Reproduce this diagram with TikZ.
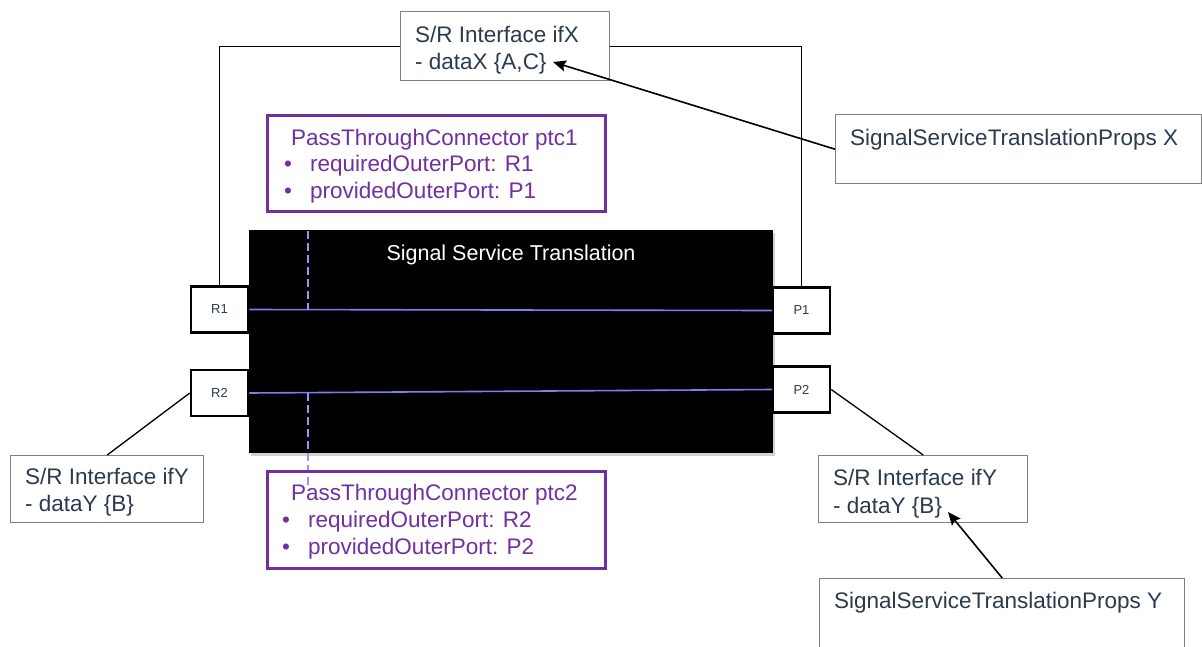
\documentclass[tikz,border=0pt]{standalone}
\usepackage{fontspec}
\setmainfont{Liberation Sans}
\usetikzlibrary{arrows.meta,shadows}
\definecolor{txt}{RGB}{44,58,78}
\definecolor{ptc}{RGB}{112,48,160}
\definecolor{lav}{RGB}{125,125,245}
\definecolor{lavlight}{RGB}{150,150,245}
\definecolor{gborder}{RGB}{128,128,128}
\begin{document}
\begin{tikzpicture}[x=1pt,y=-1pt,
  graybox/.style={draw=gborder, line width=1.4pt, fill=white, inner sep=0pt, anchor=north west},
  portbox/.style={draw=black, line width=2.5pt, fill=white, inner sep=0pt, minimum width=57pt, minimum height=46pt, font=\fontsize{13}{15}\selectfont, text=txt},
  ptcbox/.style={draw=ptc, line width=3pt, inner sep=0pt, anchor=north west},
  lbl/.style={anchor=base west, inner sep=0pt, text=txt, font=\fontsize{22.5}{27}\selectfont},
  plbl/.style={lbl, text=ptc},
  conn/.style={draw=black, line width=1.3pt},
  arr/.style={draw=black, line width=1.6pt, -{Stealth[length=13pt,width=11pt,inset=2pt]}},
  pline/.style={draw=lav, line width=1.6pt},
  dline/.style={draw=lavlight, line width=1.3pt, dash pattern=on 8pt off 4pt}
]
\clip (0,0) rectangle (1202,646);
\fill[white] (0,0) rectangle (1202,646);

% top interface box
\node[graybox, minimum width=209pt, minimum height=69pt] (ifX) at (400,11) {};
\node[lbl] (ifXa) at (415,42) {S/R Interface ifX};
\node[lbl] (ifXb) at (415,69) {- dataX \{A,C\}};

% props X
\node[graybox, minimum width=366pt, minimum height=69pt] (sstpX) at (835,114) {};
\node[lbl] (sstpXt) at (850,145) {SignalServiceTranslationProps X};

% ptc1
\node[ptcbox, minimum width=338pt, minimum height=96pt] (ptc1) at (266,114) {};
\node[plbl] (ptc1t) at (291,145) {PassThroughConnector ptc1};
\node[plbl] (ptc1b1) at (284,171) {•};
\node[plbl] (ptc1i1) at (310,171) {requiredOuterPort: R1};
\node[plbl] (ptc1b2) at (284,198) {•};
\node[plbl] (ptc1i2) at (310,198) {providedOuterPort: P1};

% black component
\node[fill=black, inner sep=0pt, anchor=north west, minimum width=524pt, minimum height=223pt,
      drop shadow={opacity=0.35, shadow xshift=2pt, shadow yshift=-3pt}] (sst) at (249,230) {};
\node[anchor=base, inner sep=0pt, text=white, font=\fontsize{21.5}{26}\selectfont] (sstt) at (511,260) {Signal Service Translation};

% ports
\node[portbox] (R1) at (219.5,309.5) {R1};
\node[portbox] (R2) at (219.5,393) {R2};
\node[portbox] (P1) at (801.5,310.5) {P1};
\node[portbox] (P2) at (801.5,389.5) {P2};

% inner connections
\draw[pline] (R1.east) -- (P1.west);
\draw[pline] (R2.east) -- (P2.west);
\coordinate (d1) at (308,231);
\coordinate (d2) at (308,488);
\draw[dline] (d1) -- (d1 |- R1.east);
\draw[dline] (d2 |- R2.east) -- (d2);

% ptc2
\node[ptcbox, minimum width=338pt, minimum height=97pt] (ptc2) at (266,470) {};
\node[plbl] (ptc2t) at (291,500) {PassThroughConnector ptc2};
\node[plbl] (ptc2b1) at (282,527) {•};
\node[plbl] (ptc2i1) at (308,527) {requiredOuterPort: R2};
\node[plbl] (ptc2b2) at (282,554) {•};
\node[plbl] (ptc2i2) at (308,554) {providedOuterPort: P2};

% outer connections top
\draw[conn] (R1.north) |- (ifX.west);
\draw[conn] (P1.north) |- (ifX.east);
\coordinate (tipX) at (553,62);
\draw[arr] (sstpX.west) -- (tipX);

% left ifY
\node[graybox, minimum width=193pt, minimum height=67pt] (ifYL) at (10,455) {};
\node[lbl] (ifYLa) at (25,484) {S/R Interface ifY};
\node[lbl] (ifYLb) at (25,511) {- dataY \{B\}};
\draw[conn] (R2.west) -- (ifYL.north);

% right ifY
\node[graybox, minimum width=209pt, minimum height=67pt] (ifYR) at (818,455) {};
\node[lbl] (ifYRa) at (833,485) {S/R Interface ifY};
\node[lbl] (ifYRb) at (833,513) {- dataY \{B\}};
\draw[conn] (P2.east) -- (ifYR.north);

% props Y
\node[graybox, minimum width=365pt, minimum height=85pt] (sstpY) at (819,578) {};
\node[lbl] (sstpYt) at (834,608) {SignalServiceTranslationProps Y};
\coordinate (tipY) at (948,512);
\draw[arr] (sstpY.north) -- (tipY);
\end{tikzpicture}
\end{document}
